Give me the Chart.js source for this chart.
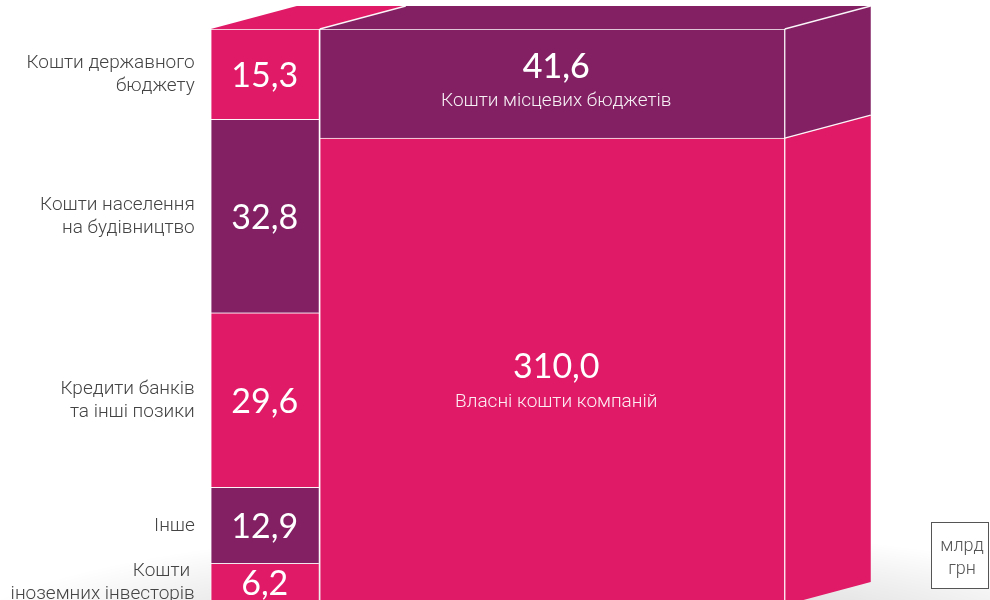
<!DOCTYPE html>
<html>
<head>
<meta charset="utf-8">
<script src="https://cdn.jsdelivr.net/npm/chart.js@4.4.0/dist/chart.umd.min.js"></script>
<style>
  html, body { margin: 0; padding: 0; background: #fff; overflow: hidden; }
  #wrap { width: 990px; height: 600px; position: relative; }
</style>
</head>
<body>
<div id="wrap"><canvas id="chart"></canvas></div>
<script>
// left column, top to bottom
const leftLabels = ['Кошти державного\nбюджету', 'Кошти населення\nна будівництво', 'Кредити банків\nта інші позики', 'Інше', 'Кошти \nіноземних інвесторів'];
const leftValues = [15.3, 32.8, 29.6, 12.9, 6.2];
// right block, top to bottom
const rightLabels = ['Кошти місцевих бюджетів', 'Власні кошти компаній'];
const rightValues = [41.6, 310.0];
const unitLabel = ['млрд', 'грн'];

const PINK = '#e01a66';
const PURPLE = '#822063';
const leftColors = [PINK, PURPLE, PINK, PURPLE, PINK];
const rightColors = [PURPLE, PINK];

const DEPTH_X = 86, DEPTH_Y = -23;   // 3d offset of the back faces
const LABEL_FONT = '300 19px Roboto';
const VALUE_FONT = '34px Lato';

const fmt = v => v.toFixed(1).replace('.', ',');
const sum = arr => arr.reduce((a, b) => a + b, 0);

// stacked bars are built bottom first
const datasets = [];
for (let i = leftValues.length - 1; i >= 0; i--) {
    datasets.push({
        label: leftLabels[i],
        data: [leftValues[i], null],
        backgroundColor: leftColors[i],
        yAxisID: 'yL', stack: 'L', barThickness: 108,
        side: 'left', row: i
    });
}
for (let i = rightValues.length - 1; i >= 0; i--) {
    datasets.push({
        label: rightLabels[i],
        data: [null, rightValues[i]],
        backgroundColor: rightColors[i],
        yAxisID: 'yR', stack: 'R', barThickness: 465,
        side: 'right', row: i
    });
}

function seg(chart, side, row) {
    const di = chart.data.datasets.findIndex(d => d.side === side && d.row === row);
    const el = chart.getDatasetMeta(di).data[side === 'left' ? 0 : 1];
    const p = el.getProps(['x', 'y', 'base', 'width'], true);
    return {
        x0: p.x - p.width / 2, x1: p.x + p.width / 2, cx: p.x,
        top: Math.min(p.y, p.base), bot: Math.max(p.y, p.base)
    };
}

function poly(ctx, pts, fill) {
    ctx.beginPath();
    ctx.moveTo(pts[0][0], pts[0][1]);
    pts.slice(1).forEach(p => ctx.lineTo(p[0], p[1]));
    ctx.closePath();
    ctx.fillStyle = fill;
    ctx.fill();
}

function line(ctx, x0, y0, x1, y1) {
    ctx.beginPath();
    ctx.moveTo(x0, y0);
    ctx.lineTo(x1, y1);
    ctx.stroke();
}

const blockPlugin = {
    id: 'block3d',
    beforeDatasetsDraw(chart) {
        // soft floor shadow
        const ctx = chart.ctx;
        const area = chart.chartArea;
        const r = seg(chart, 'right', 0);
        ctx.save();
        ctx.translate(r.cx + 10, area.bottom + 50);
        ctx.scale(1, 0.2);
        const g = ctx.createRadialGradient(0, 0, 0, 0, 0, 620);
        g.addColorStop(0, 'rgba(0,0,0,0.26)');
        g.addColorStop(0.55, 'rgba(0,0,0,0.11)');
        g.addColorStop(1, 'rgba(0,0,0,0)');
        ctx.fillStyle = g;
        ctx.fillRect(-620, -620, 1240, 1240);
        ctx.restore();
    },
    afterDatasetsDraw(chart) {
        const ctx = chart.ctx;
        const area = chart.chartArea;
        const lTop = seg(chart, 'left', 0);
        const rTop = seg(chart, 'right', 0);
        ctx.save();

        // top faces
        poly(ctx, [[lTop.x0, lTop.top], [lTop.x0 + DEPTH_X, lTop.top + DEPTH_Y],
                   [lTop.x1 + DEPTH_X + 1, lTop.top + DEPTH_Y], [lTop.x1 + 1, lTop.top]], leftColors[0]);
        poly(ctx, [[rTop.x0, rTop.top], [rTop.x0 + DEPTH_X, rTop.top + DEPTH_Y],
                   [rTop.x1 + DEPTH_X, rTop.top + DEPTH_Y], [rTop.x1, rTop.top]], rightColors[0]);

        // right side faces
        rightValues.forEach((v, i) => {
            const s = seg(chart, 'right', i);
            const bot = Math.min(s.bot, area.bottom + 5);
            poly(ctx, [[s.x1, s.top], [s.x1 + DEPTH_X, s.top + DEPTH_Y],
                       [s.x1 + DEPTH_X, bot + DEPTH_Y], [s.x1, bot]], rightColors[i]);
        });

        // edges
        ctx.strokeStyle = 'rgba(255,255,255,0.95)';
        ctx.lineWidth = 1.3;
        line(ctx, rTop.x0, rTop.top, rTop.x0 + DEPTH_X, rTop.top + DEPTH_Y);
        rightValues.forEach((v, i) => {
            const s = seg(chart, 'right', i);
            line(ctx, s.x1, s.top, s.x1 + DEPTH_X, s.top + DEPTH_Y);
        });
        line(ctx, rTop.x1, rTop.top, rTop.x1, chart.height);

        // left column: values inside, labels on the left
        leftValues.forEach((v, i) => {
            const s = seg(chart, 'left', i);
            const cy = (s.top + Math.min(s.bot, area.bottom)) / 2;
            ctx.fillStyle = '#fff';
            ctx.font = VALUE_FONT;
            ctx.textAlign = 'center';
            ctx.textBaseline = 'middle';
            ctx.fillText(fmt(v), s.cx, cy + 2);

            const lines = leftLabels[i].split('\n');
            ctx.fillStyle = '#444';
            ctx.font = LABEL_FONT;
            ctx.textAlign = 'right';
            lines.forEach((t, k) => {
                ctx.fillText(t, s.x0 - 16, cy + (k - (lines.length - 1) / 2) * 23 + 1);
            });
        });

        // right block: value + name
        rightValues.forEach((v, i) => {
            const s = seg(chart, 'right', i);
            const cy = (s.top + Math.min(s.bot, area.bottom + 30)) / 2;
            ctx.fillStyle = '#fff';
            ctx.textAlign = 'center';
            ctx.textBaseline = 'middle';
            ctx.font = (i === 0 ? '500 ' : '') + VALUE_FONT;
            ctx.fillText(fmt(v), s.cx + 4, cy - 17);
            ctx.font = LABEL_FONT;
            ctx.fillStyle = 'rgba(255,255,255,0.93)';
            ctx.fillText(rightLabels[i], s.cx + 4, cy + 18);
        });

        // unit box
        ctx.fillStyle = '#fff';
        ctx.fillRect(931.5, 522.5, 57, 66);
        ctx.strokeStyle = '#555';
        ctx.lineWidth = 1;
        ctx.strokeRect(931.5, 522.5, 57, 66);
        ctx.fillStyle = '#555';
        ctx.font = '300 18px Roboto';
        ctx.textAlign = 'center';
        unitLabel.forEach((t, k) => ctx.fillText(t, 962, 546 + k * 23));

        ctx.restore();
    }
};

new Chart(document.getElementById('chart'), {
    type: 'bar',
    data: { labels: ['left', 'right'], datasets: datasets },
    options: {
        responsive: true,
        maintainAspectRatio: false,
        animation: false,
        layout: { padding: { top: 29, bottom: 0, left: 121, right: 294 } },
        datasets: {
            bar: {
                grouped: false,
                clip: false,
                borderSkipped: false,
                borderColor: 'rgba(255,255,255,0.75)',
                borderWidth: { top: 1, left: 1, right: 0, bottom: 0 }
            }
        },
        plugins: { legend: { display: false }, tooltip: { enabled: false } },
        scales: {
            x: { display: false, offset: true },
            yL: { display: false, stacked: true, min: 0, max: sum(leftValues) },
            yR: { display: false, stacked: true, min: 134, max: sum(rightValues) }
        }
    },
    plugins: [blockPlugin]
});
</script>
</body>
</html>
